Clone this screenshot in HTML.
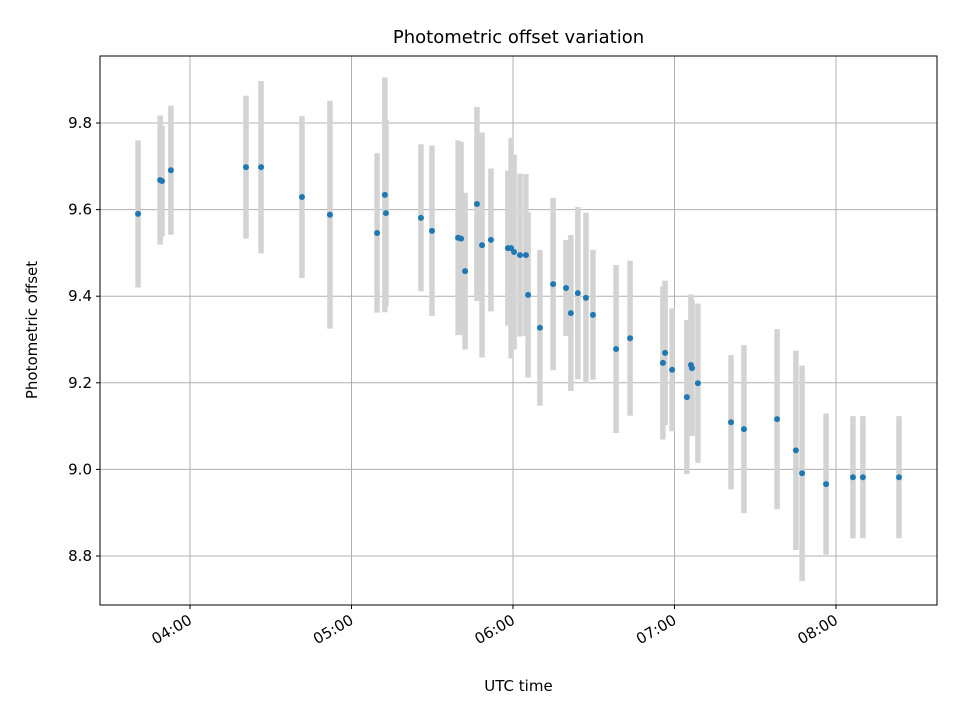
<!DOCTYPE html>
<html><head><meta charset="utf-8"><style>
body{margin:0;background:#fff}
svg text{font-family:"DejaVu Sans","Liberation Sans",sans-serif;fill:#000}
</style></head><body>
<svg id="chart" width="960" height="720" xmlns="http://www.w3.org/2000/svg">
<rect width="960" height="720" fill="#fff"/>
<g id="grid"></g>
<g id="errs"></g>
<g id="pts"></g>
<rect x="100" y="56" width="837" height="549" fill="none" stroke="#000" stroke-width="1"/>
<g id="axes"></g>
<text x="518.5" y="43" text-anchor="middle" font-size="18">Photometric offset variation</text>
<text x="518.5" y="691" text-anchor="middle" font-size="15">UTC time</text>
<text transform="translate(37,330) rotate(-90)" text-anchor="middle" font-size="15">Photometric offset</text>
</svg>
<script>
// minutes since 00:00 UTC
const times=[220.7,228.9,229.6,232.9,260.8,266.4,281.6,292.0,309.5,312.4,312.8,325.8,329.9,339.6,340.7,342.2,346.6,348.5,351.8,358.1,359.3,360.4,362.6,364.8,365.6,370.0,374.9,379.7,381.5,384.1,387.1,389.7,398.3,403.5,415.7,416.5,419.1,424.6,426.1,426.5,428.7,441.0,445.8,458.1,465.1,467.4,476.3,486.3,490.0,503.4];
const offsets=[9.590,9.668,9.666,9.691,9.698,9.698,9.629,9.588,9.546,9.634,9.592,9.581,9.551,9.535,9.533,9.458,9.613,9.518,9.530,9.511,9.511,9.502,9.495,9.495,9.403,9.327,9.428,9.419,9.361,9.407,9.396,9.357,9.278,9.303,9.246,9.269,9.230,9.167,9.241,9.234,9.199,9.109,9.093,9.116,9.044,8.991,8.966,8.982,8.982,8.982];
const errors=[0.170,0.149,0.128,0.149,0.165,0.199,0.187,0.263,0.184,0.271,0.215,0.170,0.197,0.225,0.223,0.181,0.224,0.260,0.165,0.179,0.255,0.225,0.188,0.187,0.191,0.180,0.199,0.111,0.180,0.199,0.197,0.150,0.194,0.179,0.177,0.167,0.142,0.178,0.163,0.157,0.184,0.155,0.194,0.208,0.230,0.249,0.163,0.141,0.141,0.141];
const yTicks=[8.8,9.0,9.2,9.4,9.6,9.8];
const xTicks=[240,300,360,420,480];
const xTickLabels=["04:00","05:00","06:00","07:00","08:00"];
const NS="http://www.w3.org/2000/svg";
const X=m=>190+(m-240)*161.5/60;
const Y=v=>123+(9.8-v)*433;
function mk(t,a,p){const e=document.createElementNS(NS,t);for(const k in a)e.setAttribute(k,a[k]);p.appendChild(e);return e;}
const grid=document.getElementById('grid'),axes=document.getElementById('axes');
yTicks.forEach(v=>{const y=Y(v);
 const g=mk('line',{x1:100,x2:937,y1:y,y2:y,stroke:'#b0b0b0','stroke-width':1},grid);
 
 const t=mk('line',{x1:96,x2:100,y1:y,y2:y,stroke:'#000'},axes);
 
 const l=mk('text',{x:92,y:y+5,'text-anchor':'end','font-size':'15'},axes);l.textContent=v.toFixed(1);
 });
xTicks.forEach((m,i)=>{const x=X(m);
 const g=mk('line',{x1:x,x2:x,y1:56,y2:605,stroke:'#b0b0b0','stroke-width':1},grid);
 
 const t=mk('line',{x1:x,x2:x,y1:605,y2:609,stroke:'#000'},axes);
 
 const l=mk('text',{transform:`translate(${x+3},${623}) rotate(-30)`,'text-anchor':'end','font-size':'15'},axes);l.textContent=xTickLabels[i];
 });
const errs=document.getElementById('errs'),pts=document.getElementById('pts');
times.forEach((m,i)=>{const x=X(m);
 const e=mk('line',{x1:x,x2:x,y1:Y(offsets[i]+errors[i]),y2:Y(offsets[i]-errors[i]),stroke:'#d3d3d3','stroke-width':5.5},errs);
 });
times.forEach((m,i)=>{
 const c=mk('circle',{cx:X(m),cy:Y(offsets[i]),r:3,fill:'#1f77b4'},pts);
 });
</script>
</body></html>
